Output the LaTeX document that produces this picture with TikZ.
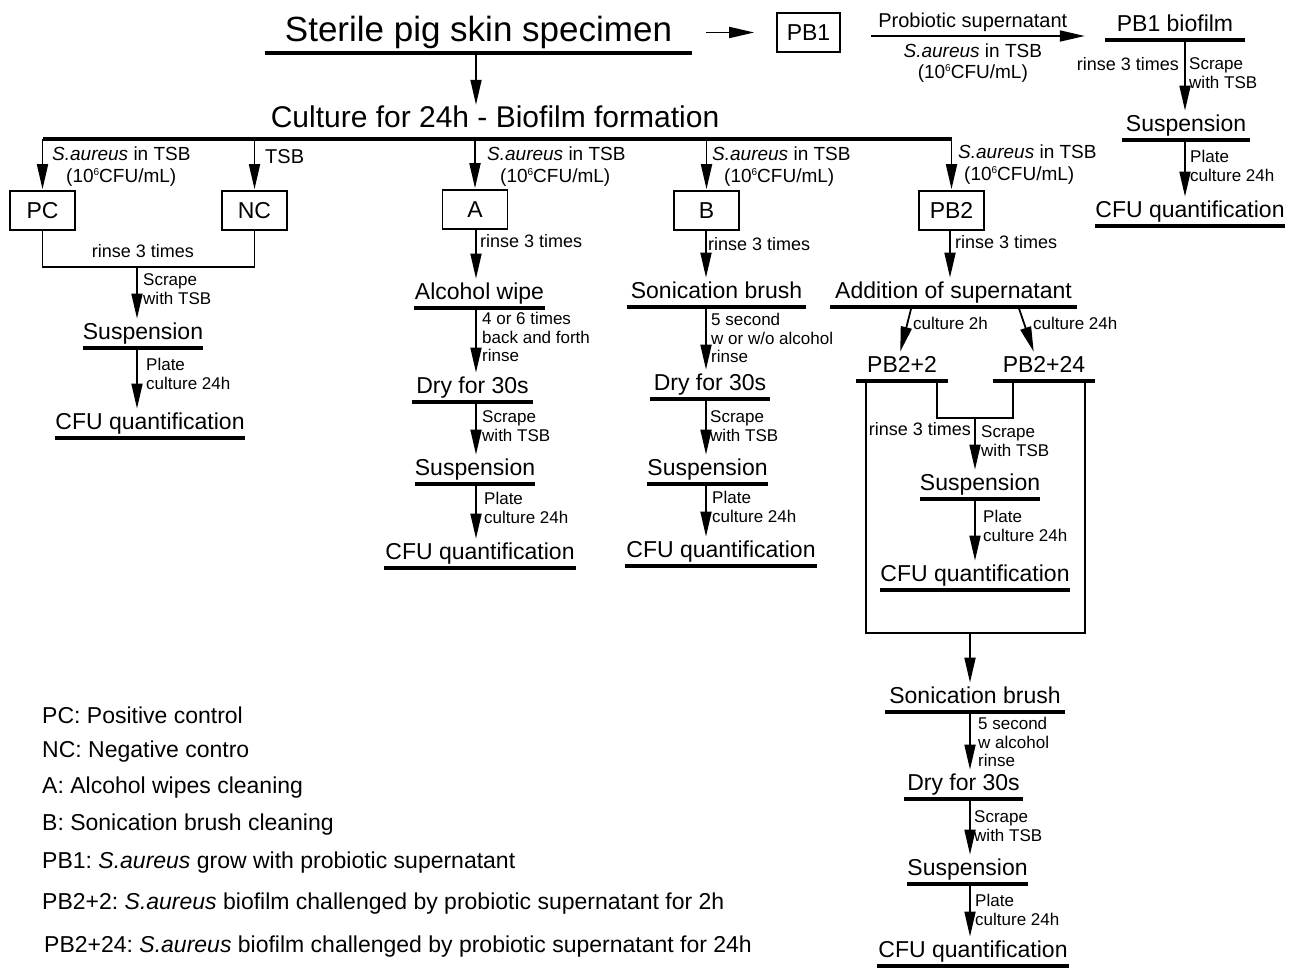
\documentclass[tikz,border=0pt]{standalone}
\usepackage{fontspec}
\setmainfont{Liberation Sans}
\usetikzlibrary{arrows.meta}
\frenchspacing

\newcommand{\saur}{\textit{S.aureus} in TSB}
\newcommand{\cfu}{(10\raisebox{0.75ex}{\fontsize{10}{10}\selectfont 6}CFU/mL)}

\begin{document}
\begin{tikzpicture}[
        x=1pt, y=-1pt,
        arr/.style = {draw, line width=1.8pt, shorten >=1pt, -{Triangle[length=25pt, width=11pt]}}, % Стрелки
        wire/.style = {draw, line width=1.8pt},
        bar/.style = {draw, line width=3.5pt},
        cell/.style = {draw, line width=1.6pt, minimum width=65pt, minimum height=39pt, font=\fontsize{23}{24}\selectfont},
        stage/.style = {inner xsep=0pt, inner ysep=3pt, text height=17pt, text depth=5pt, anchor=south,
                font=\fontsize{23}{24}\selectfont,
                append after command={(\tikzlastnode.south west) edge[bar] (\tikzlastnode.south east)}}, % Подчёркнутые этапы
        head/.style = {stage, text height=26pt, text depth=8pt, font=\fontsize{35}{36}\selectfont},
        feed/.style = {anchor=north west, inner sep=0pt, align=left, font=\fontsize{19}{22}\selectfont},
        lbl/.style = {anchor=west, inner sep=2pt, align=left, font=\fontsize{17}{18.5}\selectfont},
        rinse/.style = {lbl, font=\fontsize{18}{19}\selectfont},
        key/.style = {anchor=base west, inner sep=0pt, font=\fontsize{23}{24}\selectfont},
    ]
    \useasboundingbox (0,0) rectangle (1290,968);

    % верхняя строка
    \node[head, minimum width=427pt] (spec) at (478.5,53) {Sterile pig skin specimen};
    \node[cell, minimum width=63pt] (pb1) at (808.5,32.5) {PB1};
    \node[stage, minimum width=140pt] (pbfilm) at (1175,40) {PB1 biofilm};
    \node[stage, minimum width=128pt] (pbsusp) at (1186,140) {Suspension};
    \node[stage, minimum width=190pt] (pbcfu) at (1190,226) {CFU quantification};
    \coordinate (ptop) at (0,36);
    \coordinate (kPB1) at (1185,0);

    \draw[arr, shorten <=14pt, shorten >=22pt] (spec.east |- pb1) -- (pb1.west);
    \draw[arr, shorten <=30pt, shorten >=20pt] (pb1.east |- ptop) -- (pbfilm.west |- ptop)
        node[midway, above=3pt, inner sep=0pt, font=\fontsize{20}{22}\selectfont] {Probiotic supernatant}
        node[midway, below=7pt, inner sep=0pt, align=center, font=\fontsize{19}{21}\selectfont] {\saur\\\cfu};
    \draw[arr] (pbfilm.south -| kPB1) -- (pbsusp.north -| kPB1);
    \draw[arr] (pbsusp.south -| kPB1) -- (pbcfu.north -| kPB1);
    \node[rinse, anchor=east] (r0) at (1181,64) {rinse 3 times};
    \node[lbl] (s0) at (1187,73) {Scrape\\with TSB};
    \node[lbl] (p0) at (1188,166) {Plate\\culture 24h};

    % формирование биоплёнки
    \node[inner sep=0pt, font=\fontsize{30}{31}\selectfont] (culture) at (495,117) {Culture for 24h - Biofilm formation};
    \coordinate (bar) at (0,139);
    \coordinate (kA) at (476,0);
    \coordinate (kB) at (706,0);
    \draw[arr] (spec.south -| kA) -- (culture.north -| kA);

    \node[cell] (pc) at (42.5,210.5) {PC};
    \node[cell] (nc) at (254.5,210.5) {NC};
    \node[cell] (a) at (475,209.5) {A};
    \node[cell] (b) at (706.5,210.5) {B};
    \node[cell] (pb2) at (951.5,210.5) {PB2};

    \draw[bar] (pc.north |- bar) -- (pb2.north |- bar);
    \foreach \g in {pc,nc,a,b,pb2}
        \draw[arr] (\g.north |- bar) -- (\g.north);
    \node[feed] (fpc) at (52,147) {\saur\\\hspace*{14pt}\cfu};
    \node[feed, font=\fontsize{20}{22}\selectfont] (fnc) at (265,149) {TSB};
    \node[feed] (fa) at (487,147) {\saur\\\hspace*{13pt}\cfu};
    \node[feed] (fb) at (712,147) {\saur\\\hspace*{12pt}\cfu};
    \node[feed] (fpb2) at (958,145) {\saur\\\hspace*{6pt}\cfu};

    % PC и NC
    \coordinate (pcj) at (137,267);
    \node[stage, minimum width=120pt] (pcsusp) at (143,348) {Suspension};
    \node[stage, minimum width=190pt] (pccfu) at (150,438) {CFU quantification};
    \draw[wire] (pc.south) |- (pcj) -| (nc.south);
    \draw[arr] (pcj) -- (pcsusp.north -| pcj);
    \draw[arr] (pcsusp.south -| pcj) -- (pccfu.north -| pcj);
    \node[rinse, anchor=center] (r1) at (143,251) {rinse 3 times};
    \node[lbl] (s1) at (141,289) {Scrape\\with TSB};
    \node[lbl] (p1) at (144,374) {Plate\\culture 24h};

    % A
    \node[stage, minimum width=131pt] (awipe) at (479.5,308) {Alcohol wipe};
    \node[stage, minimum width=121pt] (adry) at (472.5,402) {Dry for 30s};
    \node[stage, minimum width=120pt] (asusp) at (475,484) {Suspension};
    \node[stage, minimum width=192pt] (acfu) at (480,568) {CFU quantification};
    \draw[arr] (a.south -| kA) -- (awipe.north -| kA);
    \draw[arr] (awipe.south -| kA) -- (adry.north -| kA);
    \draw[arr] (adry.south -| kA) -- (asusp.north -| kA);
    \draw[arr] (asusp.south -| kA) -- (acfu.north -| kA);
    \node[rinse] (r2) at (478,241) {rinse 3 times};
    \node[lbl] (w2) at (480,337) {4 or 6 times\\back and forth\\rinse};
    \node[lbl] (s2) at (480,426) {Scrape\\with TSB};
    \node[lbl] (p2l) at (482,508) {Plate\\culture 24h};

    % B
    \node[stage, minimum width=179pt] (bson) at (716.5,307) {Sonication brush};
    \node[stage, minimum width=120pt] (bdry) at (710,399) {Dry for 30s};
    \node[stage, minimum width=119pt] (bsusp) at (707.5,484) {Suspension};
    \node[stage, minimum width=192pt] (bcfu) at (721,566) {CFU quantification};
    \draw[arr] (b.south -| kB) -- (bson.north -| kB);
    \draw[arr] (bson.south -| kB) -- (bdry.north -| kB);
    \draw[arr] (bdry.south -| kB) -- (bsusp.north -| kB);
    \draw[arr] (bsusp.south -| kB) -- (bcfu.north -| kB);
    \node[rinse] (r3) at (706,244) {rinse 3 times};
    \node[lbl] (w3) at (709,338) {5 second\\w or w/o alcohol\\rinse};
    \node[lbl] (s3) at (708,426) {Scrape\\with TSB};
    \node[lbl] (p3) at (710,507) {Plate\\culture 24h};

    % PB2
    \coordinate (kPB2) at (950,0);
    \coordinate (pj) at (975,418);
    \coordinate (boxb) at (970,633);
    \node[stage, minimum width=247pt] (padd) at (953.5,307) {Addition of supernatant};
    \node[stage, minimum width=92pt] (p2) at (902,381) {PB2+2};
    \node[stage, minimum width=102pt] (p24) at (1044,381) {PB2+24};
    \node[stage, minimum width=120pt] (psusp) at (980,499) {Suspension};
    \node[stage, minimum width=190pt] (pcfu) at (975,590) {CFU quantification};
    \draw[arr] (pb2.south -| kPB2) -- (padd.north -| kPB2);
    \draw[arr] ([xshift=-42pt]padd.south) -- ([xshift=-2pt]p2.north);
    \draw[arr] ([xshift=65pt]padd.south) -- ([xshift=-10pt]p24.north);
    \draw[wire] ([xshift=10pt]p2.south west) |- (boxb) -| ([xshift=-10pt]p24.south east);
    \draw[wire] ([xshift=35pt]p2.south) |- (pj) -| ([xshift=-31pt]p24.south);
    \draw[arr] (pj) -- (psusp.north -| pj);
    \draw[arr] (psusp.south -| pj) -- (pcfu.north -| pj);
    \node[rinse] (r4) at (953,242) {rinse 3 times};
    \node[lbl] (c2) at (911,323) {culture 2h};
    \node[lbl] (c24) at (1031,323) {culture 24h};
    \node[rinse, anchor=east] (r5) at (973,429) {rinse 3 times};
    \node[lbl] (s4) at (979,441) {Scrape\\with TSB};
    \node[lbl] (p4) at (981,526) {Plate\\culture 24h};

    \node[stage, minimum width=180pt] (pson) at (975,712) {Sonication brush};
    \node[stage, minimum width=119pt] (pdry) at (963.5,799) {Dry for 30s};
    \node[stage, minimum width=119pt] (psusp2) at (967.5,884) {Suspension};
    \node[stage, minimum width=192pt] (pcfu2) at (973,966) {CFU quantification};
    \draw[arr] (boxb) -- (pson.north -| boxb);
    \draw[arr] (pson.south -| boxb) -- (pdry.north -| boxb);
    \draw[arr] (pdry.south -| boxb) -- (psusp2.north -| boxb);
    \draw[arr] (psusp2.south -| boxb) -- (pcfu2.north -| boxb);
    \node[lbl] (w5) at (976,742) {5 second\\w alcohol\\rinse};
    \node[lbl] (s5) at (972,826) {Scrape\\with TSB};
    \node[lbl] (p5) at (973,910) {Plate\\culture 24h};

    % обозначения
    \node[key] (kpc) at (42,723) {PC: Positive control};
    \node[key] (knc) at (42,757) {NC: Negative contro};
    \node[key] (ka) at (42,793) {A: Alcohol wipes cleaning};
    \node[key] (kb) at (42,830) {B: Sonication brush cleaning};
    \node[key] (kpb1) at (42,868) {PB1: \textit{S.aureus} grow with probiotic supernatant};
    \node[key] (kpb2a) at (42,909) {PB2+2: \textit{S.aureus} biofilm challenged by probiotic supernatant for 2h};
    \node[key] (kpb2b) at (44,952) {PB2+24: \textit{S.aureus} biofilm challenged by probiotic supernatant for 24h};

\end{tikzpicture}
\end{document}
